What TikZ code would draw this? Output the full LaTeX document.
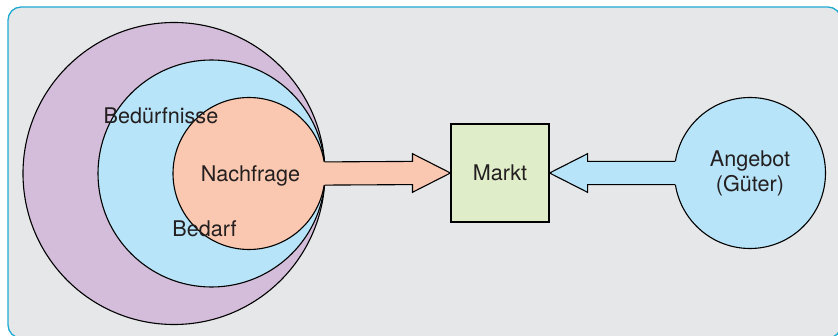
\documentclass[tikz,border=0pt]{standalone}
\usepackage{fontspec}
\setmainfont{TeX Gyre Heros}
\usetikzlibrary{calc}
\definecolor{bgcol}{RGB}{230,231,233}
\definecolor{framecol}{RGB}{31,170,210}
\definecolor{lila}{RGB}{211,189,218}
\definecolor{hellblau}{RGB}{183,228,248}
\definecolor{lachs}{RGB}{250,200,176}
\definecolor{hellgruen}{RGB}{223,237,201}
\definecolor{textcol}{RGB}{35,31,32}

\begin{document}
\begin{tikzpicture}[x=1pt,y=1pt,line width=1.1pt,
  font=\fontsize{21.6}{25}\selectfont,text=textcol]
\useasboundingbox (0,0) rectangle (838,335);
\draw[framecol,fill=bgcol,line width=1.3pt,rounded corners=13] (8,-3) rectangle (841,328);

% Kreise
\node[draw,circle,fill=lila,minimum size=302,inner sep=0] (bed) at (174,161.5) {};
\node[draw,circle,fill=hellblau,minimum size=227,inner sep=0] (bedarf) at (211.5,161.5) {};
\node[draw,circle,fill=lachs,minimum size=152,inner sep=0] (nach) at (249,161.5) {};
\node[anchor=base] (nachtext) at (250.5,153.3) {Nachfrage};
\node[anchor=base] (bedtext) at (161,211) {Bed\"urfnisse};
\node[anchor=base] (bedarftext) at (204.5,98.3) {Bedarf};

\node[draw,fill=hellgruen,minimum size=98,inner sep=0] (markt) at (500,162) {Markt};
\node[draw,circle,fill=hellblau,minimum size=151,inner sep=0,align=center] (ang) at (750,162) {Angebot\\(G\"uter)};

% Pfeile
\fill[lachs] ($(nach.east)+(-3,11.6)$) -- ($(markt.west)+(-38,11.6)$) -- ($(markt.west)+(-38,19.3)$)
  -- (markt.west) -- ($(markt.west)+(-38,-19.3)$) -- ($(markt.west)+(-38,-11.6)$) -- ($(nach.east)+(-3,-11.6)$) -- cycle;
\draw ($(nach.east)+(-0.9,11.6)$) -- ($(markt.west)+(-38,11.6)$) -- ($(markt.west)+(-38,19.3)$)
  -- (markt.west) -- ($(markt.west)+(-38,-19.3)$) -- ($(markt.west)+(-38,-11.6)$) -- ($(nach.east)+(-0.9,-11.6)$);
\fill[hellblau] ($(ang.west)+(3,11.6)$) -- ($(markt.east)+(38,11.6)$) -- ($(markt.east)+(38,19.3)$)
  -- (markt.east) -- ($(markt.east)+(38,-19.3)$) -- ($(markt.east)+(38,-11.6)$) -- ($(ang.west)+(3,-11.6)$) -- cycle;
\draw ($(ang.west)+(0.9,11.6)$) -- ($(markt.east)+(38,11.6)$) -- ($(markt.east)+(38,19.3)$)
  -- (markt.east) -- ($(markt.east)+(38,-19.3)$) -- ($(markt.east)+(38,-11.6)$) -- ($(ang.west)+(0.9,-11.6)$);
\end{tikzpicture}
\end{document}
